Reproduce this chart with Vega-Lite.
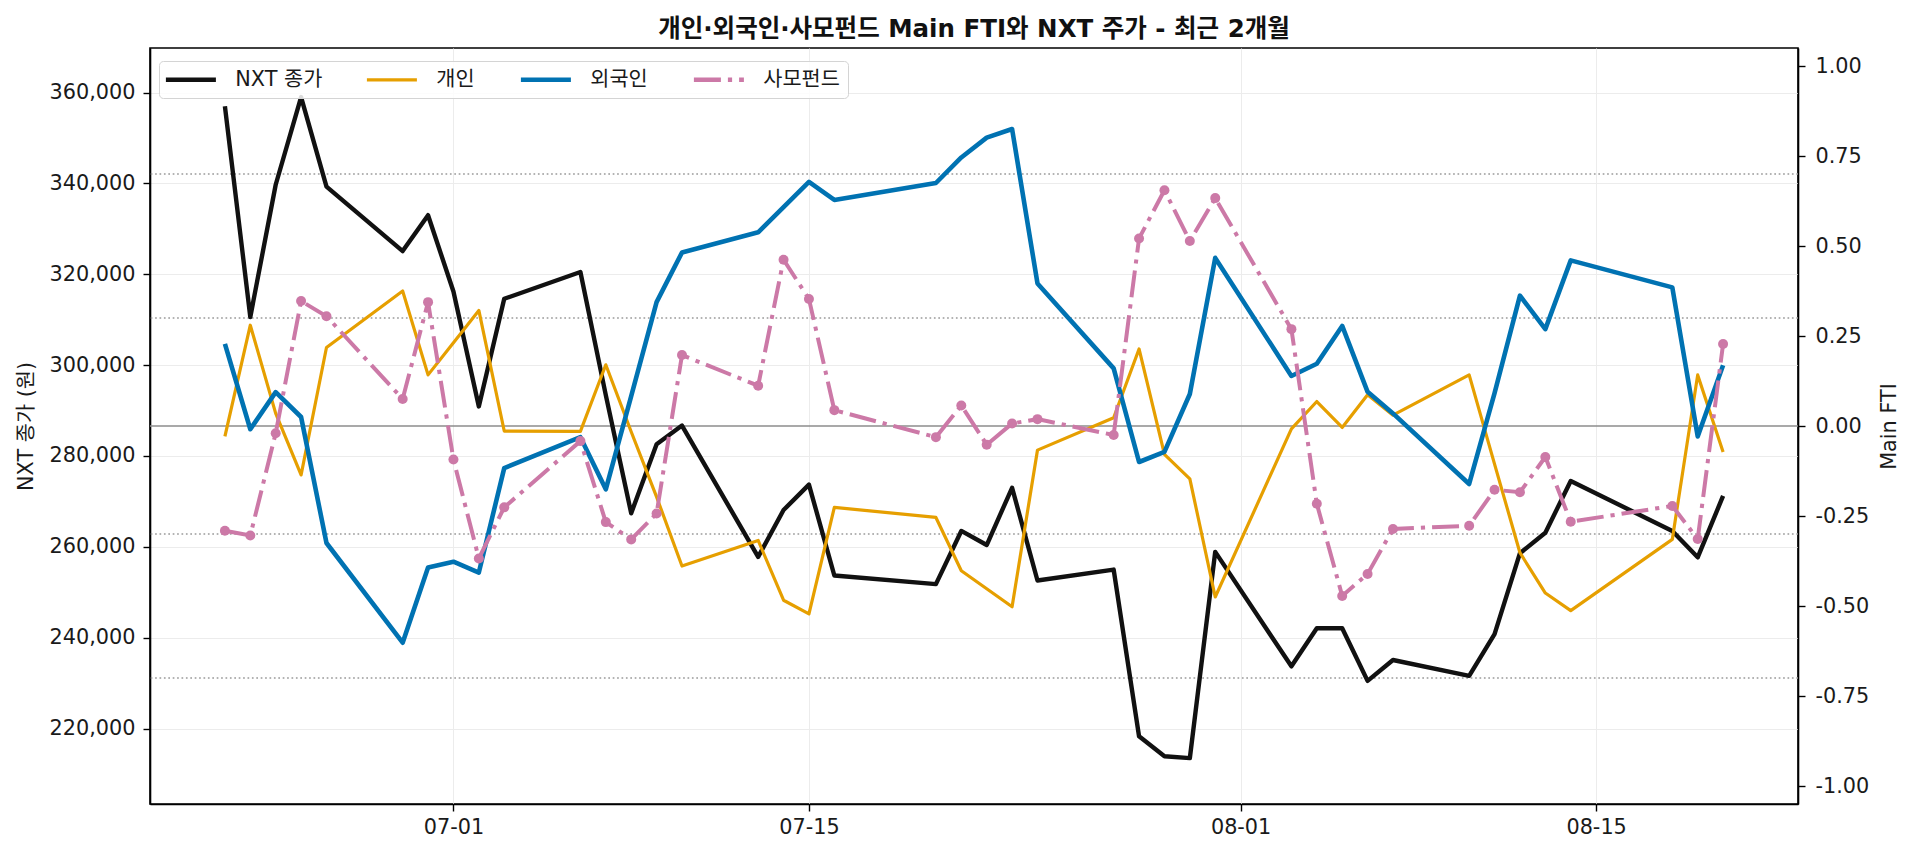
{
  "$schema": "https://vega.github.io/schema/vega-lite/v6.json",
  "width": 1648,
  "height": 756,
  "autosize": {"type": "none"},
  "padding": {"left": 150, "top": 48, "right": 122, "bottom": 55},
  "background": "white",
  "title": {
    "text": "개인·외국인·사모펀드 Main FTI와 NXT 주가 - 최근 2개월",
    "fontSize": 24.5,
    "fontWeight": "bold",
    "anchor": "middle",
    "offset": 6,
    "color": "#111111"
  },
  "data": {
    "values": [
      {"date": "2025-06-22", "close": 357000, "indiv": -0.029, "foreign": 0.228, "pef": -0.291},
      {"date": "2025-06-23", "close": 310600, "indiv": 0.280, "foreign": -0.009, "pef": -0.304},
      {"date": "2025-06-24", "close": 339700, "indiv": 0.035, "foreign": 0.094, "pef": -0.020},
      {"date": "2025-06-25", "close": 359000, "indiv": -0.136, "foreign": 0.025, "pef": 0.347},
      {"date": "2025-06-26", "close": 339300, "indiv": 0.218, "foreign": -0.325, "pef": 0.305},
      {"date": "2025-06-29", "close": 325100, "indiv": 0.375, "foreign": -0.602, "pef": 0.075},
      {"date": "2025-06-30", "close": 333000, "indiv": 0.142, "foreign": -0.393, "pef": 0.344},
      {"date": "2025-07-01", "close": 316200, "indiv": 0.231, "foreign": -0.377, "pef": -0.093},
      {"date": "2025-07-02", "close": 290900, "indiv": 0.321, "foreign": -0.407, "pef": -0.368},
      {"date": "2025-07-03", "close": 314600, "indiv": -0.014, "foreign": -0.117, "pef": -0.226},
      {"date": "2025-07-06", "close": 320500, "indiv": -0.015, "foreign": -0.031, "pef": -0.042},
      {"date": "2025-07-07", "close": 293400, "indiv": 0.170, "foreign": -0.176, "pef": -0.267},
      {"date": "2025-07-08", "close": 267400, "indiv": -0.016, "foreign": 0.083, "pef": -0.315},
      {"date": "2025-07-09", "close": 282600, "indiv": -0.197, "foreign": 0.344, "pef": -0.243},
      {"date": "2025-07-10", "close": 286700, "indiv": -0.389, "foreign": 0.482, "pef": 0.197},
      {"date": "2025-07-13", "close": 257800, "indiv": -0.318, "foreign": 0.538, "pef": 0.112},
      {"date": "2025-07-14", "close": 268100, "indiv": -0.484, "foreign": 0.608, "pef": 0.462},
      {"date": "2025-07-15", "close": 273700, "indiv": -0.522, "foreign": 0.678, "pef": 0.353},
      {"date": "2025-07-16", "close": 253700, "indiv": -0.226, "foreign": 0.628, "pef": 0.044},
      {"date": "2025-07-20", "close": 251800, "indiv": -0.254, "foreign": 0.675, "pef": -0.031},
      {"date": "2025-07-21", "close": 263500, "indiv": -0.402, "foreign": 0.746, "pef": 0.057},
      {"date": "2025-07-22", "close": 260400, "indiv": -0.452, "foreign": 0.801, "pef": -0.052},
      {"date": "2025-07-23", "close": 273000, "indiv": -0.502, "foreign": 0.825, "pef": 0.007},
      {"date": "2025-07-24", "close": 252600, "indiv": -0.067, "foreign": 0.396, "pef": 0.019},
      {"date": "2025-07-27", "close": 255000, "indiv": 0.023, "foreign": 0.160, "pef": -0.025},
      {"date": "2025-07-28", "close": 218300, "indiv": 0.214, "foreign": -0.100, "pef": 0.521},
      {"date": "2025-07-29", "close": 213900, "indiv": -0.079, "foreign": -0.072, "pef": 0.655},
      {"date": "2025-07-30", "close": 213500, "indiv": -0.147, "foreign": 0.089, "pef": 0.514},
      {"date": "2025-07-31", "close": 258900, "indiv": -0.475, "foreign": 0.467, "pef": 0.633},
      {"date": "2025-08-03", "close": 233700, "indiv": -0.008, "foreign": 0.139, "pef": 0.269},
      {"date": "2025-08-04", "close": 242100, "indiv": 0.068, "foreign": 0.173, "pef": -0.216},
      {"date": "2025-08-05", "close": 242100, "indiv": -0.004, "foreign": 0.278, "pef": -0.472},
      {"date": "2025-08-06", "close": 230500, "indiv": 0.087, "foreign": 0.095, "pef": -0.411},
      {"date": "2025-08-07", "close": 235100, "indiv": 0.030, "foreign": 0.035, "pef": -0.286},
      {"date": "2025-08-10", "close": 231600, "indiv": 0.142, "foreign": -0.161, "pef": -0.277},
      {"date": "2025-08-11", "close": 240800, "indiv": -0.106, "foreign": 0.091, "pef": -0.177},
      {"date": "2025-08-12", "close": 258600, "indiv": -0.352, "foreign": 0.362, "pef": -0.184},
      {"date": "2025-08-13", "close": 263100, "indiv": -0.464, "foreign": 0.269, "pef": -0.086},
      {"date": "2025-08-14", "close": 274500, "indiv": -0.513, "foreign": 0.460, "pef": -0.266},
      {"date": "2025-08-18", "close": 263500, "indiv": -0.315, "foreign": 0.385, "pef": -0.222},
      {"date": "2025-08-19", "close": 257700, "indiv": 0.142, "foreign": -0.029, "pef": -0.314},
      {"date": "2025-08-20", "close": 271200, "indiv": -0.072, "foreign": 0.169, "pef": 0.228}
    ]
  },
  "layer": [
    {
      "data": {"values": [{"level": 0}]},
      "mark": {"type": "rule", "color": "#8c8c8c", "strokeWidth": 1.4},
      "encoding": {
        "y": {"field": "level", "type": "quantitative", "scale": {"domain": [-1.05, 1.05], "nice": false, "zero": false}, "axis": null}
      }
    },
    {
      "data": {"values": [{"level": 0.7}, {"level": 0.3}, {"level": -0.3}, {"level": -0.7}]},
      "mark": {"type": "rule", "color": "#9a9a9a", "strokeWidth": 1.5, "strokeDash": [1.7, 2.7]},
      "encoding": {
        "y": {"field": "level", "type": "quantitative", "scale": {"domain": [-1.05, 1.05], "nice": false, "zero": false}, "axis": null}
      }
    },
    {
      "mark": {"type": "line", "strokeWidth": 4.4, "strokeJoin": "round"},
      "encoding": {
        "x": {
          "field": "date", "type": "temporal",
          "scale": {"type": "utc", "domain": [1750295520000, 1755902880000]},
          "axis": {
            "title": null,
            "format": "%m-%d",
            "values": [1751328000000, 1752537600000, 1754006400000, 1755216000000],
            "grid": true,
            "labelPadding": 6
          }
        },
        "y": {
          "field": "close", "type": "quantitative",
          "scale": {"domain": [203400, 369800], "nice": false, "zero": false},
          "axis": {
            "orient": "left",
            "title": "NXT 종가 (원)",
            "values": [220000, 240000, 260000, 280000, 300000, 320000, 340000, 360000],
            "format": ",d",
            "grid": true,
            "labelPadding": 8,
            "titlePadding": 12
          }
        },
        "color": {
          "datum": "NXT 종가", "type": "nominal",
          "scale": {"domain": ["NXT 종가", "개인", "외국인", "사모펀드"], "range": ["#111111", "#E69F00", "#0072B2", "#CC79A7"]},
          "legend": {
            "orient": "none",
            "legendX": 9,
            "legendY": 13,
            "direction": "horizontal",
            "title": null,
            "symbolType": "stroke",
            "symbolSize": 2500,
            "symbolStrokeWidth": 4.4,
            "symbolOffset": 13.5,
            "labelOffset": 34,
            "columnPadding": 37,
            "padding": 8,
            "fillColor": "rgba(255,255,255,0.85)",
            "strokeColor": "#d4d4d4",
            "cornerRadius": 4,
            "encode": {
              "symbols": {
                "update": {
                  "strokeDash": {"signal": "datum.value === '사모펀드' ? [27, 7, 4.2, 7] : [1, 0]"},
                  "strokeWidth": {"signal": "datum.value === '개인' ? 3.2 : 4.4"}
                }
              }
            }
          }
        }
      }
    },
    {
      "mark": {"type": "line", "strokeWidth": 3.2, "strokeJoin": "round"},
      "encoding": {
        "x": {"field": "date", "type": "temporal", "scale": {"type": "utc", "domain": [1750295520000, 1755902880000]}},
        "y": {
          "field": "indiv", "type": "quantitative",
          "scale": {"domain": [-1.05, 1.05], "nice": false, "zero": false},
          "axis": {
            "orient": "right",
            "title": "Main FTI",
            "values": [-1, -0.75, -0.5, -0.25, 0, 0.25, 0.5, 0.75, 1],
            "format": ".2f",
            "grid": false,
            "labelPadding": 10,
            "titlePadding": 11,
            "titleAngle": 270,
            "titleBaseline": "top"
          }
        },
        "color": {"datum": "개인", "type": "nominal", "scale": {"domain": ["NXT 종가", "개인", "외국인", "사모펀드"], "range": ["#111111", "#E69F00", "#0072B2", "#CC79A7"]}}
      }
    },
    {
      "mark": {"type": "line", "strokeWidth": 4.6, "strokeJoin": "round"},
      "encoding": {
        "x": {"field": "date", "type": "temporal", "scale": {"type": "utc", "domain": [1750295520000, 1755902880000]}},
        "y": {"field": "foreign", "type": "quantitative", "scale": {"domain": [-1.05, 1.05], "nice": false, "zero": false}, "axis": null},
        "color": {"datum": "외국인", "type": "nominal", "scale": {"domain": ["NXT 종가", "개인", "외국인", "사모펀드"], "range": ["#111111", "#E69F00", "#0072B2", "#CC79A7"]}}
      }
    },
    {
      "mark": {"type": "line", "strokeWidth": 4, "strokeDash": [27, 7, 4.2, 7]},
      "encoding": {
        "x": {"field": "date", "type": "temporal", "scale": {"type": "utc", "domain": [1750295520000, 1755902880000]}},
        "y": {"field": "pef", "type": "quantitative", "scale": {"domain": [-1.05, 1.05], "nice": false, "zero": false}, "axis": null},
        "color": {"datum": "사모펀드", "type": "nominal", "scale": {"domain": ["NXT 종가", "개인", "외국인", "사모펀드"], "range": ["#111111", "#E69F00", "#0072B2", "#CC79A7"]}}
      }
    },
    {
      "mark": {"type": "point", "filled": true, "size": 100, "opacity": 1, "color": "#CC79A7"},
      "encoding": {
        "x": {"field": "date", "type": "temporal", "scale": {"type": "utc", "domain": [1750295520000, 1755902880000]}},
        "y": {"field": "pef", "type": "quantitative", "scale": {"domain": [-1.05, 1.05], "nice": false, "zero": false}, "axis": null}
      }
    }
  ],
  "resolve": {"scale": {"y": "independent"}},
  "config": {
    "locale": {
      "number": {"decimal": ".", "thousands": ",", "grouping": [3], "currency": ["$", ""], "minus": "-"}
    },
    "font": "DejaVu Sans, Noto Sans CJK KR",
    "view": {"stroke": "#000000", "strokeWidth": 1.6},
    "axis": {
      "labelFont": "DejaVu Sans, Noto Sans CJK KR",
      "titleFont": "DejaVu Sans, Noto Sans CJK KR",
      "labelFontSize": 20.8,
      "titleFontSize": 20.8,
      "titleFontWeight": "normal",
      "labelColor": "#1a1a1a",
      "titleColor": "#1a1a1a",
      "domainColor": "#000000",
      "domainWidth": 1.6,
      "tickColor": "#000000",
      "tickWidth": 1.4,
      "tickSize": 7,
      "gridColor": "#ececec",
      "gridWidth": 1
    },
    "legend": {
      "labelFont": "DejaVu Sans, Noto Sans CJK KR",
      "labelFontSize": 20.8,
      "labelColor": "#1a1a1a"
    },
    "title": {"font": "DejaVu Sans, Noto Sans CJK KR"}
  }
}
